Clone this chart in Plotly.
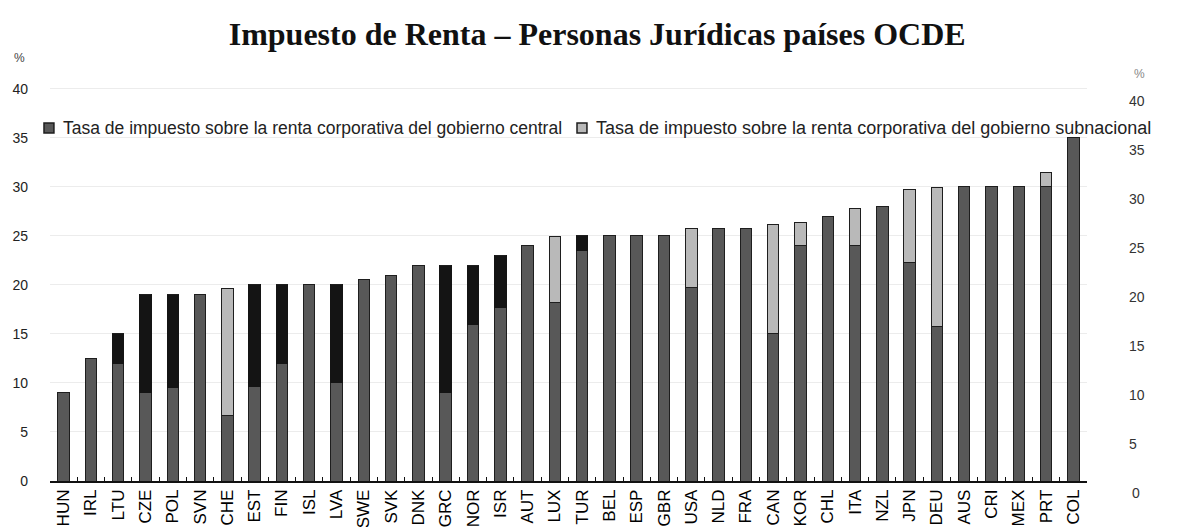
import plotly.graph_objects as go

paises = ['HUN', 'IRL', 'LTU', 'CZE', 'POL', 'SVN', 'CHE', 'EST', 'FIN', 'ISL',
          'LVA', 'SWE', 'SVK', 'DNK', 'GRC', 'NOR', 'ISR', 'AUT', 'LUX', 'TUR',
          'BEL', 'ESP', 'GBR', 'USA', 'NLD', 'FRA', 'CAN', 'KOR', 'CHL', 'ITA',
          'NZL', 'JPN', 'DEU', 'AUS', 'CRI', 'MEX', 'PRT', 'COL']

# tasa del gobierno central, parte gris oscura
central_gris = [9, 12.5, 12, 9, 9.5, 19, 6.7, 9.6, 12, 20,
                10, 20.6, 21, 22, 9, 16, 17.7, 24, 18.2, 23.5,
                25, 25, 25, 19.7, 25.8, 25.8, 15, 24, 27, 24,
                28, 22.3, 15.8, 30, 30, 30, 30, 35]
# tramo del gobierno central que sale negro en el escaneo
central_negro = [0, 0, 3, 10, 9.5, 0, 0, 10.4, 8, 0,
                 10, 0, 0, 0, 13, 6, 5.3, 0, 0, 1.5,
                 0, 0, 0, 0, 0, 0, 0, 0, 0, 0,
                 0, 0, 0, 0, 0, 0, 0, 0]
# tasa del gobierno subnacional
subnacional = [0, 0, 0, 0, 0, 0, 12.9, 0, 0, 0,
               0, 0, 0, 0, 0, 0, 0, 0, 6.7, 0,
               0, 0, 0, 6.1, 0, 0, 11.2, 2.4, 0, 3.8,
               0, 7.4, 14.1, 0, 0, 0, 1.5, 0]

ticks_y = [0, 5, 10, 15, 20, 25, 30, 35, 40]

nombre_central = 'Tasa de impuesto sobre la renta corporativa del gobierno central'
nombre_sub = 'Tasa de impuesto sobre la renta corporativa del gobierno subnacional'
color_central = '#585858'
color_negro = '#141414'
color_sub = '#b9b9b9'
borde = '#1e1e1e'

fig = go.Figure()

fig.add_trace(go.Bar(
    x=paises, y=central_gris, name=nombre_central,
    marker=dict(color=color_central, line=dict(color=borde, width=1)),
))
fig.add_trace(go.Bar(
    x=paises, y=central_negro, name='',
    marker=dict(color=color_negro, line=dict(color=color_negro, width=1)),
))
fig.add_trace(go.Bar(
    x=paises, y=subnacional, name=nombre_sub,
    marker=dict(color=color_sub, line=dict(color=borde, width=1)),
))
# eje derecho (ligeramente desplazado como en el escaneo)
fig.add_trace(go.Scatter(x=[paises[0]], y=[None], yaxis='y2', hoverinfo='skip'))

# leyenda dibujada a mano para que quepa en una sola fila
leyenda = [(-0.0058, color_central, 0.0106, nombre_central, 17.5),
           (0.5082, color_sub, 0.5246, nombre_sub, 18)]
for x_cuadro, color, x_texto, texto, tam in leyenda:
    fig.add_shape(type='rect', xref='paper', yref='paper',
                  x0=x_cuadro, x1=x_cuadro + 0.0096, y0=0.8744, y1=0.8995,
                  fillcolor=color, line=dict(color=borde, width=1.5))
    fig.add_annotation(x=x_texto, xref='paper', xanchor='left',
                       y=0.887, yref='paper', yanchor='middle', text=texto,
                       showarrow=False, font=dict(size=tam, color='#222'))

fig.add_annotation(x=1.041, xref='paper', xanchor='left',
                   y=-0.03, yref='paper', yanchor='middle', text='0', showarrow=False,
                   font=dict(family='Liberation Sans', size=14, color='#333'))
fig.add_annotation(x=-0.037, xref='paper', y=1.085, yref='paper', text='%',
                   showarrow=False, font=dict(size=12, color='#444'))
fig.add_annotation(x=1.058, xref='paper', y=1.045, yref='paper', text='%',
                   showarrow=False, font=dict(size=12, color='#888'))

fig.update_layout(
    title=dict(
        text='<b>Impuesto de Renta – Personas Jurídicas países OCDE</b>',
        font=dict(family='Liberation Serif', size=32, color='#111'),
        x=0.498, xanchor='center', y=0.951, yanchor='middle',
    ),
    barmode='stack',
    bargap=0.58,
    plot_bgcolor='white',
    paper_bgcolor='white',
    width=1183,
    height=527,
    margin=dict(l=42, r=104, t=75, b=54),
    font=dict(family='Liberation Sans', size=14, color='#1a1a1a'),
    xaxis=dict(
        range=[-0.5, 37.5], automargin=False,
        showline=True, linecolor='#111', linewidth=1.5,
        ticks='inside', tickson='boundaries', ticklen=4, tickcolor='#111',
        tickangle=-90, tickfont=dict(size=17, color='#000'),
        showgrid=False,
    ),
    yaxis=dict(
        range=[0, 40.6], tickvals=ticks_y, showgrid=True, gridcolor='#ececec',
        zeroline=False, ticks='', ticklabelstandoff=21, automargin=False,
        tickfont=dict(size=14, color='#222'),
    ),
    yaxis2=dict(
        overlaying='y', side='right', range=[1.22, 41.84], tickvals=ticks_y[1:],
        showgrid=False, zeroline=False, ticks='', ticklabelstandoff=41,
        automargin=False, tickfont=dict(size=14, color='#333'),
    ),
    showlegend=False,
)

fig.write_html('out.html')
